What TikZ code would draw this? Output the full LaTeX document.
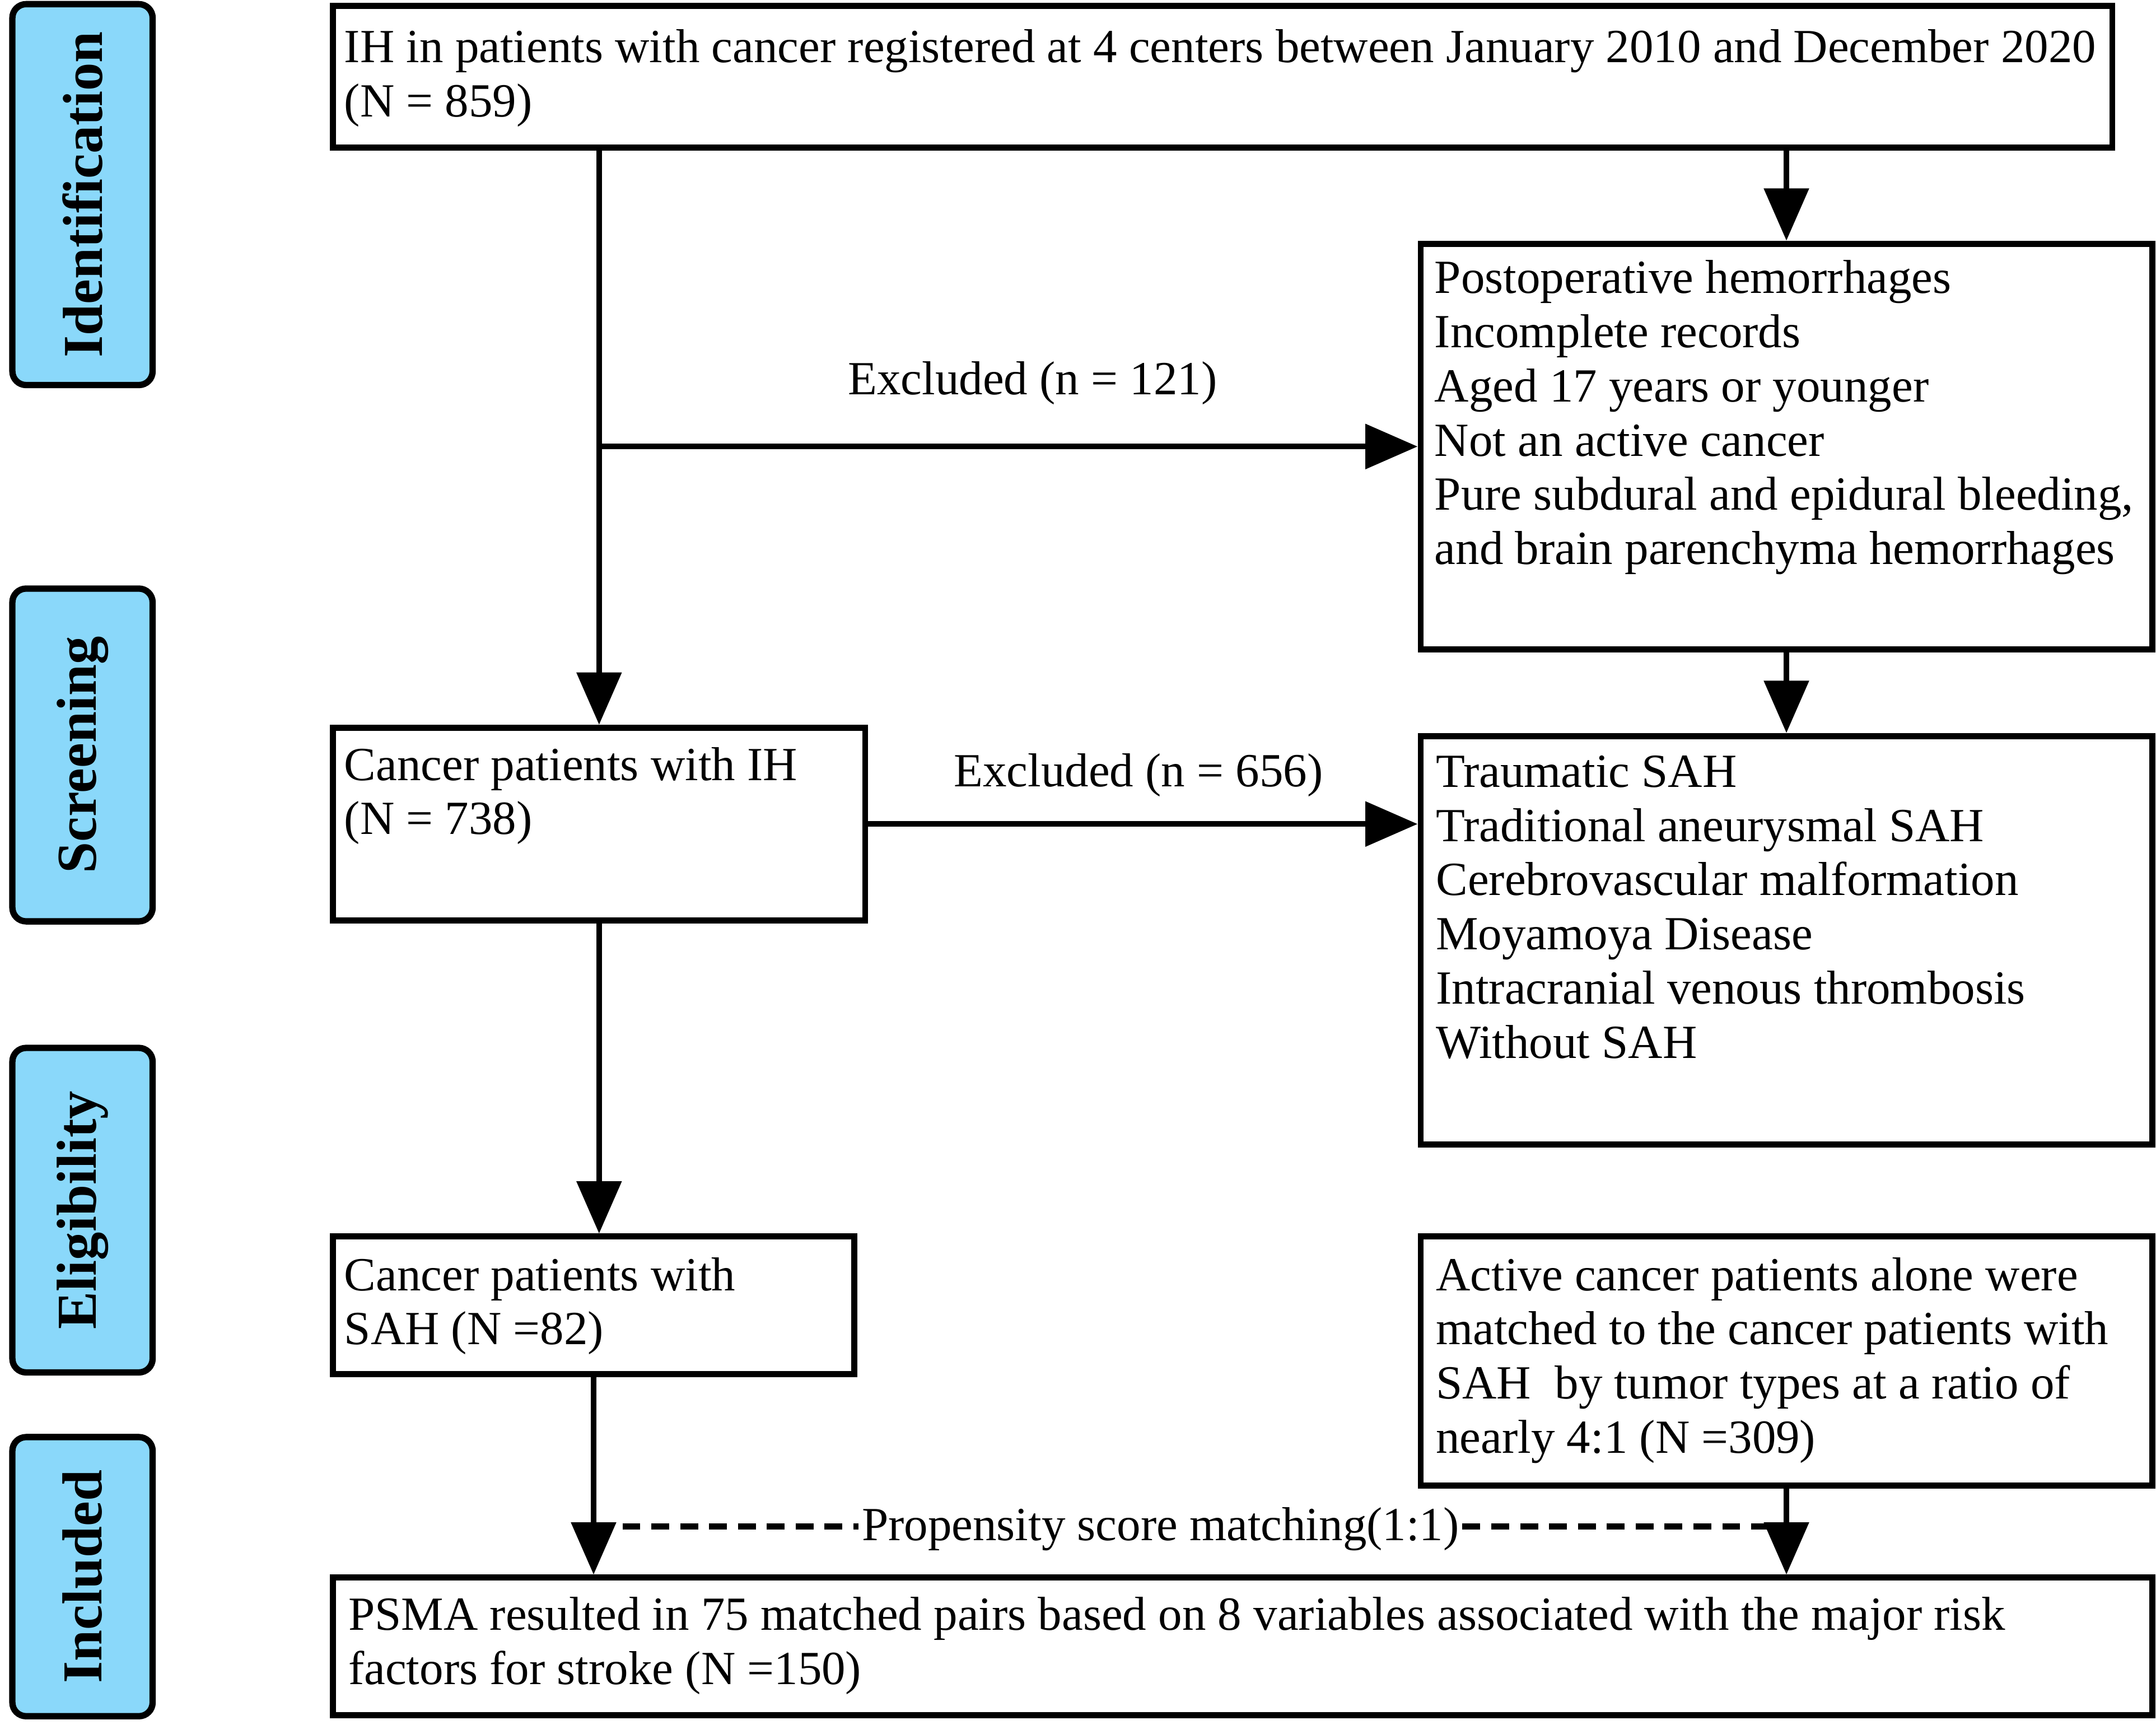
\documentclass[tikz,border=0pt]{standalone}
\usepackage{fontspec}
\setmainfont{Liberation Serif}
\usetikzlibrary{arrows.meta,calc}
\definecolor{sideblue}{RGB}{138,216,250}
\begin{document}
\begin{tikzpicture}[x=0.5pt,y=-0.5pt,
  box/.style={draw=black,line width=2.2pt,rectangle,inner sep=0pt,anchor=north west},
  side/.style={draw=black,line width=2.3pt,fill=sideblue,rounded corners=5pt,rotate=90,
    inner sep=0pt,font=\fontsize{20.5}{24}\selectfont\bfseries},
  txt/.style={inner sep=0pt,anchor=north west,align=left,font=\fontsize{17.3}{19.7}\selectfont},
  lbl/.style={inner sep=0pt,anchor=base,font=\fontsize{17.3}{19.7}\selectfont},
  arr/.style={line width=2.1pt,-{Triangle[length=19pt,width=16pt]}},
  dsh/.style={line width=2.1pt,dash pattern=on 6.5pt off 4pt}]
\useasboundingbox (0,0) rectangle (1568,1254);
% side labels
\node[side,minimum width=138.5pt,minimum height=51pt] (sid) at (60,141.5) {Identification};
\node[side,minimum width=121pt,minimum height=51pt] (sscr) at (60,549) {Screening};
\node[side,minimum width=118pt,minimum height=51pt] (self) at (60,880) {Eligibility};
\node[side,minimum width=101.5pt,minimum height=51pt] (sinc) at (60,1146.5) {Included};
% boxes
\node[box,minimum width=647pt,minimum height=51.5pt] (A) at (240,2) {};
\node[box,minimum width=266pt,minimum height=147.5pt] (B) at (1031,175) {};
\node[box,minimum width=193.5pt,minimum height=70pt] (C) at (240,527) {};
\node[box,minimum width=266pt,minimum height=148.5pt] (D) at (1031,533) {};
\node[box,minimum width=189.5pt,minimum height=50pt] (E) at (240,897) {};
\node[box,minimum width=266pt,minimum height=90.5pt] (F) at (1031,897) {};
\node[box,minimum width=661.5pt,minimum height=50pt] (G) at (240,1145) {};
% texts
\node[txt] (tA) at (250,17.4) {\strut IH in patients with cancer registered at 4 centers between January 2010 and December 2020\\(N = 859)};
\node[txt] (tB) at (1043,185.4) {\strut Postoperative hemorrhages\\Incomplete records\\Aged 17 years or younger\\Not an active cancer\\Pure subdural and epidural bleeding,\\and brain parenchyma hemorrhages};
\node[txt] (tC) at (250,539.4) {\strut Cancer patients with IH\\(N = 738)};
\node[txt] (tD) at (1044,544.4) {\strut Traumatic SAH\\Traditional aneurysmal SAH\\Cerebrovascular malformation\\Moyamoya Disease\\Intracranial venous thrombosis\\Without SAH};
\node[txt] (tE) at (250,910.4) {\strut Cancer patients with\\SAH (N =82)};
\node[txt] (tF) at (1044,910.4) {\strut Active cancer patients alone were\\matched to the cancer patients with\\SAH\ \ by tumor types at a ratio of\\nearly 4:1 (N =309)};
\node[txt] (tG) at (253,1157.4) {\strut PSMA resulted in 75 matched pairs based on 8 variables associated with the major risk\\factors for stroke (N =150)};
% connector labels
\node[lbl] (l1) at (751,287) {Excluded (n = 121)};
\node[lbl] (l2) at (828,572) {Excluded (n = 656)};
\node[lbl,inner sep=1pt] (l3) at (844,1120) {Propensity score matching(1:1)};
% connectors
\coordinate (a1) at (A.south -| C.north);
\coordinate (j1) at (a1 |- B.west);
\draw[arr] (a1) -- (a1 |- C.north);
\draw[arr] (j1) -- (B.west);
\draw[arr] (A.south -| B.north) -- (B.north);
\draw[arr] (B.south) -- (D.north);
\draw[arr] (C.east) -- (C.east -| D.west);
\draw[arr] (C.south) -- (C.south |- E.north);
\draw[arr] (E.south) -- (E.south |- G.north);
\draw[arr] (F.south) -- (F.south |- G.north);
\coordinate (pl) at (E.south |- 0,1110);
\coordinate (pr) at (F.south |- 0,1110);
\draw[dsh] (pl) -- (l3.west |- pl);
\draw[dsh] (l3.east |- pr) -- (pr);
\end{tikzpicture}
\end{document}
